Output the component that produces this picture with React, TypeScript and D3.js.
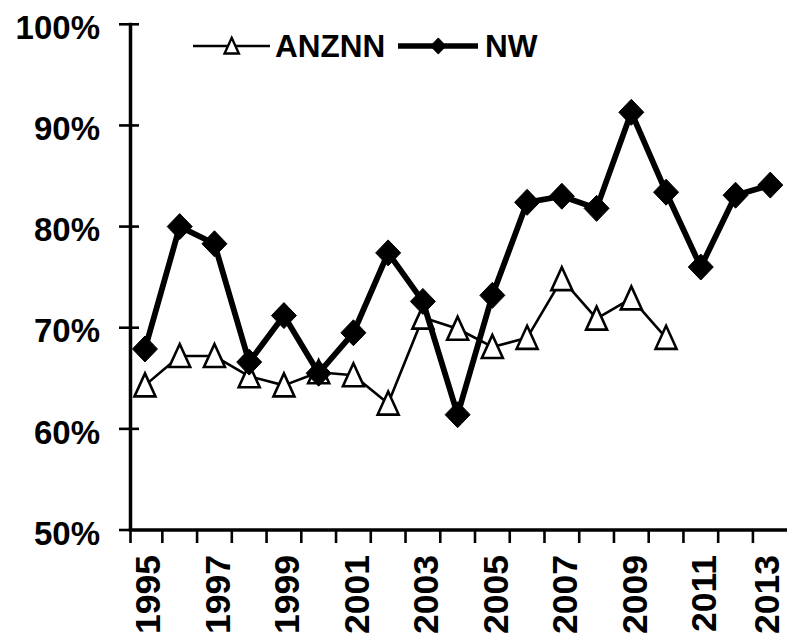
import React from "react";
import * as d3 from "d3";

const years = ["1995","1996","1997","1998","1999","2000","2001","2002","2003","2004","2005","2006","2007","2008","2009","2010","2011","2012","2013"];
const anznn: (number | null)[] = [64.3, 67.2, 67.2, 65.2, 64.3, 65.6, 65.3, 62.5, 71.0, 69.9, 68.1, 69.0, 74.8, 70.9, 72.9, 69.0, null, null, null];
const nw: number[] = [67.9, 80.0, 78.3, 66.6, 71.2, 65.5, 69.5, 77.4, 72.6, 61.4, 73.2, 82.4, 83.0, 81.8, 91.3, 83.4, 76.0, 83.1, 84.1];
const yTicks = [50, 60, 70, 80, 90, 100];
const xLabelYears = ["1995","1997","1999","2001","2003","2005","2007","2009","2011","2013"];

const FONT = "'Liberation Sans', Arial, Helvetica, sans-serif";

export default function App() {
  const W = 787, H = 644;
  const axisX = 130.5;
  const axisY = 530;
  const step = 34.74;
  const xFont = 35.5;
  const x = d3.scaleBand<string>().domain(years).range([127.6, 127.6 + step * years.length]).padding(0);
  const cx = (yr: string) => (x(yr) as number) + x.bandwidth() / 2;
  const y = d3.scaleLinear().domain([50, 100]).range([axisY, 24.3]);

  const lineGen = d3.line<[string, number | null]>()
    .defined((d) => d[1] != null)
    .x((d) => cx(d[0]))
    .y((d) => y(d[1] as number));

  const anzData: [string, number | null][] = years.map((yr, i) => [yr, anznn[i]]);
  const nwData: [string, number | null][] = years.map((yr, i) => [yr, nw[i]]);

  const tri = (s: number) => `M0,${-12 * s}L${10.5 * s},${11 * s}L${-10.5 * s},${11 * s}Z`;
  const dia = (s: number) => `M0,${-13 * s}L${12.5 * s},0L0,${13 * s}L${-12.5 * s},0Z`;

  const boundaries = years.slice(1).map((yr) => x(yr) as number);
  const labelX = (yr: string) => Math.min(cx(yr) + 15.5, W - xFont * 0.215);

  return (
    <svg width={W} height={H} style={{ position: "absolute", left: 0, top: 0, display: "block", background: "#fff" }}>
      <rect x={0} y={0} width={W} height={H} fill="#fff" />
      {/* Y axis */}
      <line x1={axisX} x2={axisX} y1={y(100) - 1.5} y2={axisY} stroke="#000" strokeWidth={3.5} />
      {yTicks.map((t) => (
        <g key={t}>
          <line x1={119} x2={t === 50 ? axisX : 139} y1={y(t)} y2={y(t)} stroke="#000" strokeWidth={2.6} />
          <text x={100} y={y(t) + 14.7} textAnchor="end" fontFamily={FONT} fontWeight="bold" fontSize={33} fill="#000">
            {t}%
          </text>
        </g>
      ))}
      {/* X axis */}
      <line x1={axisX - 1.75} x2={W} y1={axisY} y2={axisY} stroke="#000" strokeWidth={3.5} />
      <line x1={axisX} x2={axisX} y1={axisY} y2={543} stroke="#000" strokeWidth={2.6} />
      {boundaries.map((b, i) => (
        <line key={i} x1={b} x2={b} y1={axisY} y2={543} stroke="#000" strokeWidth={2.6} />
      ))}
      {xLabelYears.map((yr) => (
        <text
          key={yr}
          transform={`translate(${labelX(yr)},555) rotate(-90)`}
          textAnchor="end"
          fontFamily={FONT}
          fontWeight="bold"
          fontSize={xFont}
          fill="#000"
        >
          {yr}
        </text>
      ))}
      {/* ANZNN series */}
      <path d={lineGen(anzData) || ""} fill="none" stroke="#000" strokeWidth={2.6} strokeLinejoin="round" />
      {anzData.filter((d) => d[1] != null).map((d) => (
        <path key={"a" + d[0]} d={tri(1)} transform={`translate(${cx(d[0])},${y(d[1] as number)})`} fill="#fff" stroke="#000" strokeWidth={2.6} strokeLinejoin="miter" />
      ))}
      {/* NW series */}
      <path d={lineGen(nwData) || ""} fill="none" stroke="#000" strokeWidth={5.8} strokeLinejoin="round" />
      {nwData.map((d) => (
        <path key={"n" + d[0]} d={dia(1)} transform={`translate(${cx(d[0])},${y(d[1] as number)})`} fill="#000" stroke="#000" strokeWidth={1} />
      ))}
      {/* Legend */}
      <line x1={193} x2={270} y1={46} y2={46} stroke="#000" strokeWidth={2.6} />
      <path d={tri(0.68)} transform="translate(231.7,46)" fill="#fff" stroke="#000" strokeWidth={2.4} />
      <text x={275} y={57.3} fontFamily={FONT} fontWeight="bold" fontSize={31.5} fill="#000">ANZNN</text>
      <line x1={398} x2={478} y1={46} y2={46} stroke="#000" strokeWidth={5.5} />
      <path d={dia(0.62)} transform="translate(438.3,46)" fill="#000" stroke="#000" strokeWidth={1} />
      <text x={485} y={57.3} fontFamily={FONT} fontWeight="bold" fontSize={31.5} fill="#000">NW</text>
    </svg>
  );
}
